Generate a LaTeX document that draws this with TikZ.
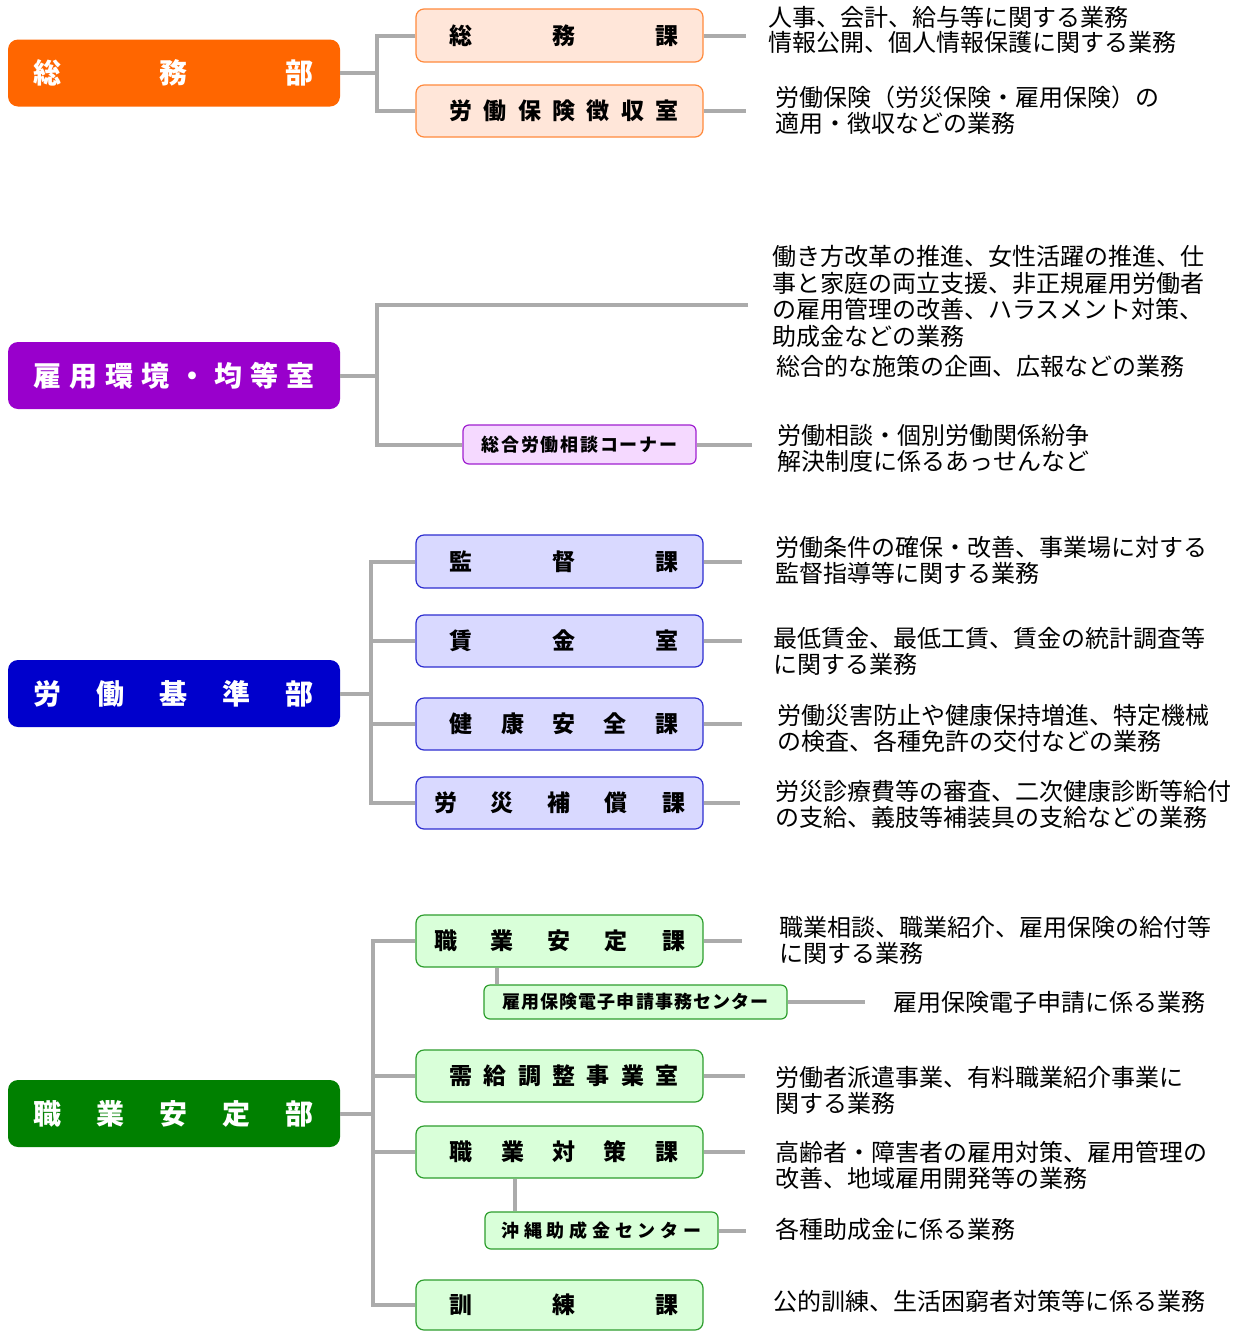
\documentclass[tikz,border=0pt]{standalone}
\usepackage{fontspec}
\setmainfont{Noto Sans CJK JP}
\newcommand\sprd[2]{\hbox to #1{#2}}
\newcommand\sprdR[2]{\hbox{\hskip 9pt\hbox to #1{#2}}}
\definecolor{connc}{HTML}{ABABAB}
\definecolor{orgD}{HTML}{FF6600}
\definecolor{orgS}{HTML}{FFE6D9}
\definecolor{orgB}{HTML}{FF8A3D}
\definecolor{purD}{HTML}{9900CC}
\definecolor{purS}{HTML}{F5D9FF}
\definecolor{purB}{HTML}{A020D0}
\definecolor{bluD}{HTML}{0000CC}
\definecolor{bluS}{HTML}{D9D9FF}
\definecolor{bluB}{HTML}{2E2ED0}
\definecolor{grnD}{HTML}{008000}
\definecolor{grnS}{HTML}{D9FFD9}
\definecolor{grnB}{HTML}{2E9E2E}
\begin{document}
\begin{tikzpicture}[x=1pt,y=-1pt,
  conn/.style={draw=connc, line width=4pt, line join=miter},
  dept/.style={rounded corners=10pt, minimum width=332pt, minimum height=67pt, inner sep=0pt, text=white, font=\fontsize{28}{30}\selectfont\bfseries},
  sub/.style={rounded corners=8pt, minimum width=287pt, minimum height=52pt, inner sep=0pt, line width=1.2pt, font=\fontsize{23}{25}\selectfont\bfseries},
  small/.style={rounded corners=6pt, inner sep=0pt, line width=1.2pt, font=\fontsize{18}{20}\selectfont\bfseries},
  desc/.style={anchor=west, inner sep=0pt, align=left, font=\fontsize{24}{26}\selectfont},
]
\useasboundingbox (0,0) rectangle (1244,1331);
\fill[white] (0,0) rectangle (1244,1331);

% bus coordinates
\coordinate (bus1) at (377,0);
\coordinate (bus2) at (377,0);
\coordinate (bus3) at (371,0);
\coordinate (bus4) at (373,0);
\coordinate (br41) at (497,0);
\coordinate (br43) at (515,0);

% departments
\node[dept, fill=orgD] (d1) at (174,73) {\sprd{280pt}{総\hfil 務\hfil 部}};
\node[dept, fill=purD] (d2) at (174,375.5) {\sprd{282pt}{雇\hfil 用\hfil 環\hfil 境\hfil ・\hfil 均\hfil 等\hfil 室}};
\node[dept, fill=bluD] (d3) at (174,693.5) {\sprd{280pt}{労\hfil 働\hfil 基\hfil 準\hfil 部}};
\node[dept, fill=grnD] (d4) at (174,1113.5) {\sprd{280pt}{職\hfil 業\hfil 安\hfil 定\hfil 部}};

% 総務部
\node[sub, fill=orgS, draw=orgB, minimum height=53pt] (s11) at (559.5,35.5) {\sprdR{229pt}{総\hfil 務\hfil 課}};
\node[sub, fill=orgS, draw=orgB] (s12) at (559.5,111) {\sprdR{229pt}{労\hfil 働\hfil 保\hfil 険\hfil 徴\hfil 収\hfil 室}};

% 雇用環境・均等室
\node[small, fill=purS, draw=purB, minimum width=233pt, minimum height=39pt] (s21) at (579.5,444.5) {\sprd{196pt}{総\hfil 合\hfil 労\hfil 働\hfil 相\hfil 談\hfil コ\hfil ー\hfil ナ\hfil ー}};

% 労働基準部
\node[sub, fill=bluS, draw=bluB, minimum height=53pt] (s31) at (559.5,561.5) {\sprdR{229pt}{監\hfil 督\hfil 課}};
\node[sub, fill=bluS, draw=bluB] (s32) at (559.5,641) {\sprdR{229pt}{賃\hfil 金\hfil 室}};
\node[sub, fill=bluS, draw=bluB] (s33) at (559.5,724) {\sprdR{229pt}{健\hfil 康\hfil 安\hfil 全\hfil 課}};
\node[sub, fill=bluS, draw=bluB] (s34) at (559.5,803) {\sprd{251pt}{労\hfil 災\hfil 補\hfil 償\hfil 課}};

% 職業安定部
\node[sub, fill=grnS, draw=grnB] (s41) at (559.5,941) {\sprd{251pt}{職\hfil 業\hfil 安\hfil 定\hfil 課}};
\node[small, fill=grnS, draw=grnB, minimum width=303pt, minimum height=34pt] (s41a) at (635.5,1002) {\sprd{267pt}{雇\hfil 用\hfil 保\hfil 険\hfil 電\hfil 子\hfil 申\hfil 請\hfil 事\hfil 務\hfil セ\hfil ン\hfil タ\hfil ー}};
\node[sub, fill=grnS, draw=grnB] (s42) at (559.5,1076) {\sprdR{229pt}{需\hfil 給\hfil 調\hfil 整\hfil 事\hfil 業\hfil 室}};
\node[sub, fill=grnS, draw=grnB] (s43) at (559.5,1152) {\sprdR{229pt}{職\hfil 業\hfil 対\hfil 策\hfil 課}};
\node[small, fill=grnS, draw=grnB, minimum width=233pt, minimum height=37pt] (s43a) at (601.5,1230.5) {\sprd{200pt}{沖\hfil 縄\hfil 助\hfil 成\hfil 金\hfil セ\hfil ン\hfil タ\hfil ー}};
\node[sub, fill=grnS, draw=grnB, minimum height=50pt] (s44) at (559.5,1305) {\sprdR{229pt}{訓\hfil 練\hfil 課}};

% descriptions
\node[desc, font=\fontsize{24}{24.5}\selectfont] (t11) at (768,30) {人事、会計、給与等に関する業務\\情報公開、個人情報保護に関する業務};
\node[desc] (t12) at (775,110) {労働保険（労災保険・雇用保険）の\\適用・徴収などの業務};
\node[desc, font=\fontsize{24}{26.5}\selectfont] (t21) at (772,296.5) {働き方改革の推進、女性活躍の推進、仕\\事と家庭の両立支援、非正規雇用労働者\\の雇用管理の改善、ハラスメント対策、\\助成金などの業務};
\node[desc] (t22) at (776,366) {総合的な施策の企画、広報などの業務};
\node[desc] (t23) at (777,448) {労働相談・個別労働関係紛争\\解決制度に係るあっせんなど};
\node[desc] (t31) at (775,560.5) {労働条件の確保・改善、事業場に対する\\監督指導等に関する業務};
\node[desc] (t32) at (773,651.5) {最低賃金、最低工賃、賃金の統計調査等\\に関する業務};
\node[desc] (t33) at (777,728.5) {労働災害防止や健康保持増進、特定機械\\の検査、各種免許の交付などの業務};
\node[desc] (t34) at (775,804) {労災診療費等の審査、二次健康診断等給付\\の支給、義肢等補装具の支給などの業務};
\node[desc] (t41) at (779,940.5) {職業相談、職業紹介、雇用保険の給付等\\に関する業務};
\node[desc] (t41a) at (893,1002) {雇用保険電子申請に係る業務};
\node[desc] (t42) at (775,1090) {労働者派遣事業、有料職業紹介事業に\\関する業務};
\node[desc] (t43) at (775,1165) {高齢者・障害者の雇用対策、雇用管理の\\改善、地域雇用開発等の業務};
\node[desc] (t43a) at (775,1229) {各種助成金に係る業務};
\node[desc] (t44) at (773,1301) {公的訓練、生活困窮者対策等に係る業務};

% free ends of right-hand connectors
\coordinate (e11) at (746,35.5);
\coordinate (e12) at (746,111);
\coordinate (e2top) at (748,305);
\coordinate (e21) at (752,444.5);
\coordinate (e31) at (742,561.5);
\coordinate (e32) at (742,641);
\coordinate (e33) at (742,724);
\coordinate (e34) at (740,803);
\coordinate (e41) at (742,941);
\coordinate (e41a) at (865,1002);
\coordinate (e42) at (745,1076);
\coordinate (e43) at (745,1152);
\coordinate (e43a) at (746,1230.5);

% 総務部
\draw[conn] (d1.east) -- (d1.east -| bus1);
\draw[conn] (s11.west) -- (s11.west -| bus1) -- (s12.west -| bus1) -- (s12.west);
\draw[conn] (s11.east) -- (e11);
\draw[conn] (s12.east) -- (e12);
% 雇用環境・均等室
\draw[conn] (d2.east) -- (d2.east -| bus2);
\draw[conn] (e2top) -- (e2top -| bus2) -- (s21.west -| bus2) -- (s21.west);
\draw[conn] (s21.east) -- (e21);
% 労働基準部
\draw[conn] (d3.east) -- (d3.east -| bus3);
\draw[conn] (s31.west) -- (s31.west -| bus3) -- (s34.west -| bus3) -- (s34.west);
\draw[conn] (s32.west -| bus3) -- (s32.west);
\draw[conn] (s33.west -| bus3) -- (s33.west);
\draw[conn] (s31.east) -- (e31);
\draw[conn] (s32.east) -- (e32);
\draw[conn] (s33.east) -- (e33);
\draw[conn] (s34.east) -- (e34);
% 職業安定部
\draw[conn] (d4.east) -- (d4.east -| bus4);
\draw[conn] (s41.west) -- (s41.west -| bus4) -- (s44.west -| bus4) -- (s44.west);
\draw[conn] (s42.west -| bus4) -- (s42.west);
\draw[conn] (s43.west -| bus4) -- (s43.west);
\draw[conn] (br41 |- s41.south) -- (br41 |- s41a.north);
\draw[conn] (br43 |- s43.south) -- (br43 |- s43a.north);
\draw[conn] (s41.east) -- (e41);
\draw[conn] (s41a.east) -- (e41a);
\draw[conn] (s42.east) -- (e42);
\draw[conn] (s43.east) -- (e43);
\draw[conn] (s43a.east) -- (e43a);
\end{tikzpicture}
\end{document}
